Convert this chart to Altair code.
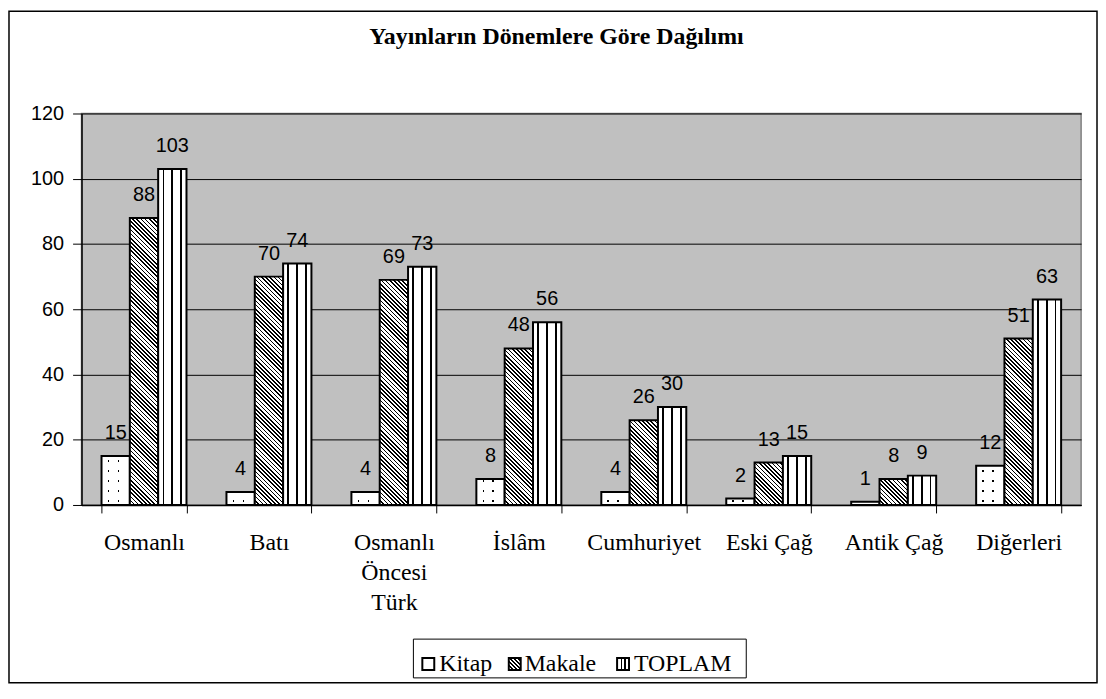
import altair as alt
import pandas as pd

# ---------------- data ----------------
categories = ["Osmanlı", "Batı", "Osmanlı Öncesi Türk", "İslâm", "Cumhuriyet",
              "Eski Çağ", "Antik Çağ", "Diğerleri"]
series = ["Kitap", "Makale", "TOPLAM"]
kitap = [15, 4, 4, 8, 4, 2, 1, 12]
makale = [88, 70, 69, 48, 26, 13, 8, 51]
toplam = [103, 74, 73, 56, 30, 15, 9, 63]
y_ticks = [0, 20, 40, 60, 80, 100, 120]
title_text = "Yayınların Dönemlere Göre Dağılımı"

# ---------------- layout constants ----------------
W, H = 1006, 394
YMAX = 120
PAD_IN, PAD_OUT = 0.32, 0.16
BAR_W = W / len(categories) * (1 - PAD_IN) / len(series)
PX = H / YMAX
SERIF = "Liberation Serif, Times New Roman, serif"
SANS = "Liberation Sans, Arial, sans-serif"

BLACK, WHITE, CLEAR = "#000000", "#ffffff", "rgba(255,255,255,0)"

rows = []
for s, vals in zip(series, [kitap, makale, toplam]):
    for c, v in zip(categories, vals):
        rows.append({"cat": c, "series": s, "value": v})
df = pd.DataFrame(rows)


# ---------------- pattern helpers (gradients with hard stops) ----------------
def band_stops(bands, base, ink):
    stops = [{"offset": 0, "color": base}]
    for a, b in bands:
        a = max(0.0, min(1.0, a))
        b = max(0.0, min(1.0, b))
        if b <= a:
            continue
        stops += [{"offset": a, "color": base}, {"offset": a, "color": ink},
                  {"offset": b, "color": ink}, {"offset": b, "color": base}]
    stops.append({"offset": 1, "color": base})
    return stops


def vstripes(width, centers_px, lw, base=WHITE, ink=BLACK):
    bands = [((c - lw / 2) / width, (c + lw / 2) / width) for c in centers_px]
    return {"gradient": "linear", "x1": 0, "y1": 0, "x2": 1, "y2": 0,
            "stops": band_stops(bands, base, ink)}


def diag(w, h, period=4.2, ink_frac=0.4):
    span = w + h
    lam = span / (w * w + h * h)
    n = int(span // period) + 1
    bands = [(k * period / span, (k * period + ink_frac * period) / span) for k in range(n)]
    return {"gradient": "linear", "x1": 0, "y1": 1, "x2": lam * w, "y2": 1 - lam * h,
            "stops": band_stops(bands, WHITE, BLACK)}


def dot_rows(h, period=10.0, first=4.0, lw=1.6):
    bands = []
    yb = first
    while yb < h - 1:
        frac = (h - yb) / h
        bands.append((frac - lw / 2 / h, frac + lw / 2 / h))
        yb += period
    bands.sort()
    return {"gradient": "linear", "x1": 0, "y1": 0, "x2": 0, "y2": 1,
            "stops": band_stops(bands, WHITE, BLACK)}


# ---------------- axes / encodings ----------------
x_axis = alt.Axis(
    labelFont=SERIF, labelFontSize=24, labelColor="black",
    labelAngle=0, labelPadding=18, labelLineHeight=30, labelLimit=300,
    labelOverlap=False,
    labelExpr="length(split(datum.value, ' ')) > 2 ? split(datum.value, ' ') : datum.value",
    tickSize=8, tickColor="black", tickWidth=1, tickBand="extent",
    domainColor="black", domainWidth=1.5, grid=False,
)
y_axis = alt.Axis(
    values=y_ticks, labelFont=SANS, labelFontSize=20, labelColor="black",
    labelPadding=9, tickSize=9, tickColor="black", tickWidth=1,
    domainColor="black", domainWidth=1.5,
    grid=True, gridColor="black", gridWidth=1, gridOpacity=1,
)

X = alt.X("cat:N", title=None,
          scale=alt.Scale(domain=categories, paddingInner=PAD_IN, paddingOuter=PAD_OUT),
          axis=x_axis)
XO = alt.XOffset("series:N", scale=alt.Scale(domain=series, paddingInner=0, paddingOuter=0))
Y = alt.Y("value:Q", title=None, scale=alt.Scale(domain=[0, YMAX]), axis=y_axis)

base = alt.Chart(df).encode(x=X, xOffset=XO, y=Y)

layers = []

# Kitap: dotted (rows underneath, column mask on top)
for c, v in zip(categories, kitap):
    layers.append(
        base.transform_filter(f"datum.series == 'Kitap' && datum.cat == '{c}'")
        .mark_bar(fill=dot_rows(v * PX), strokeWidth=0)
    )
col_mask = vstripes(BAR_W, [7.0, 17.0], 1.6, base=WHITE, ink=CLEAR)
layers.append(
    base.transform_filter("datum.series == 'Kitap'")
    .mark_bar(fill=col_mask, stroke="black", strokeWidth=2)
)

# Makale: diagonal hatch
for c, v in zip(categories, makale):
    layers.append(
        base.transform_filter(f"datum.series == 'Makale' && datum.cat == '{c}'")
        .mark_bar(fill=diag(BAR_W, v * PX), stroke="black", strokeWidth=2)
    )

# TOPLAM: vertical lines
layers.append(
    base.transform_filter("datum.series == 'TOPLAM'")
    .mark_bar(fill=vstripes(BAR_W, [5.2, 14.0, 23.0], 1.6), stroke="black", strokeWidth=2)
)

# value labels
layers.append(
    base.mark_text(font=SANS, fontSize=20, dy=-17, baseline="alphabetic",
                   align="center", color="black").encode(text="value:Q")
)

# ---------------- decorations ----------------
one = pd.DataFrame({"t": [title_text]})

layers.append(
    alt.Chart(one).mark_rect(fill="transparent", stroke="black", strokeWidth=1.5)
    .encode(x=alt.value(-73), x2=alt.value(1022), y=alt.value(-103), y2=alt.value(573))
)
layers.append(
    alt.Chart(one).mark_text(font=SERIF, fontSize=24, fontWeight="bold",
                             align="center", baseline="alphabetic", color="black")
    .encode(text="t:N", x=alt.value(478), y=alt.value(-70))
)

# legend
layers.append(
    alt.Chart(one).mark_rect(fill="white", stroke="black", strokeWidth=1)
    .encode(x=alt.value(334), x2=alt.value(669), y=alt.value(529), y2=alt.value(568))
)
legend_fills = [WHITE, diag(12, 12, period=4.0), vstripes(12, [4.2, 8.0], 1.5)]
legend_sq_x = [343, 430, 539]
legend_tx_x = [360, 446, 556]
for s, f, sx, tx in zip(series, legend_fills, legend_sq_x, legend_tx_x):
    ldf = pd.DataFrame({"s": [s]})
    layers.append(
        alt.Chart(ldf).mark_rect(fill=f, stroke="black", strokeWidth=2)
        .encode(x=alt.value(sx), x2=alt.value(sx + 12), y=alt.value(548), y2=alt.value(560))
    )
    layers.append(
        alt.Chart(ldf).mark_text(font=SERIF, fontSize=24, align="left",
                                 baseline="alphabetic", color="black")
        .encode(text="s:N", x=alt.value(tx), y=alt.value(561))
    )

chart = (
    alt.layer(*layers)
    .properties(width=W, height=H,
                padding={"left": 74, "top": 104, "right": 17, "bottom": 180},
                autosize=alt.AutoSizeParams(type="none"),
                background="white")
    .configure_view(fill="#C0C0C0", stroke="#808080", strokeWidth=1.5)
)

chart.save("out.html", embed_options={"renderer": "svg", "actions": False})
